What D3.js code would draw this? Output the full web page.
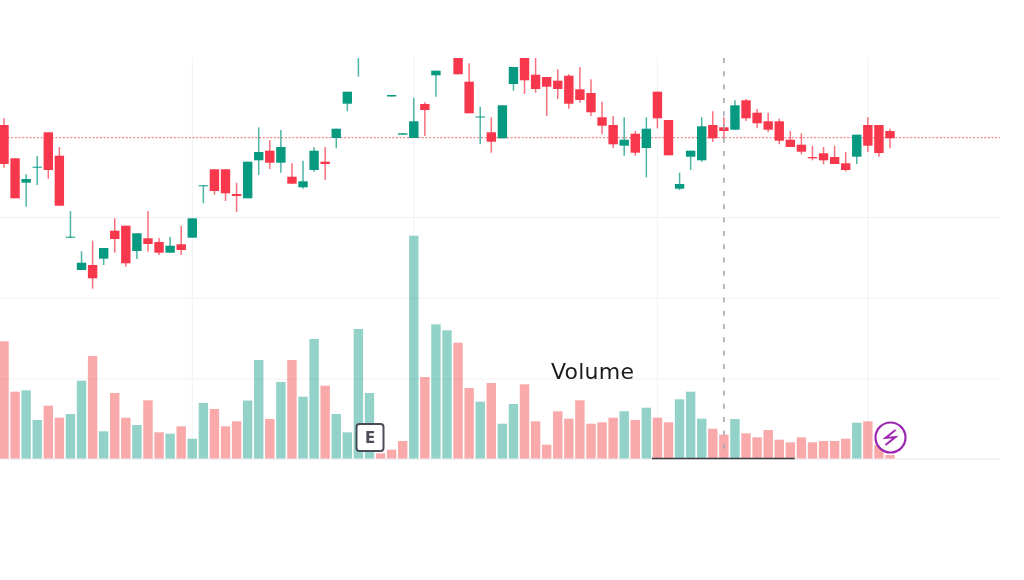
<!DOCTYPE html>
<html>
<head>
<meta charset="utf-8">
<script src="https://cdn.jsdelivr.net/npm/d3@7"></script>
<style>
  html, body { margin: 0; padding: 0; background: #fff; }
  svg { display: block; }
  #chart { filter: blur(0.45px); }
  .label { font-family: "DejaVu Sans", sans-serif; }
</style>
</head>
<body>
<svg id="chart" width="1024" height="580"></svg>
<script>
const opens = [375, 341.7, 317.3, 332.3, 367.7, 344.3, 262.3, 230, 235, 241.3,
  269.3, 274.3, 249, 261.7, 258, 247.3, 255.7, 262.3, 313.7, 330.7,
  330.7, 306, 301.7, 339.7, 349.3, 337.3, 323.3, 312.7, 330, 338.3,
  362, 396.3, 444, 455, 465, 403.5, 365.3, 362, 396, 424.7,
  450, 460, 418.3, 382.5, 367.7, 361.7, 416, 455, 425.3, 423,
  419.3, 424.3, 410.7, 407, 382.7, 375, 354.3, 366.3, 352, 408.3,
  380, 311.3, 343.3, 339.7, 375, 372.7, 370.3, 399.7, 387.3, 378.7,
  378.7, 360.3, 355.3, 343, 346.7, 343, 336.7, 343.3, 375, 375, 369];
const highs = [381.7, 341.7, 325.7, 344, 367.7, 353, 289, 248.7, 259.3, 252,
  281.7, 274.3, 266.7, 289, 262, 263.3, 274.3, 281.7, 314.7, 330.7,
  330.7, 317.3, 338.3, 372.7, 360, 370, 336.7, 339.3, 352.7, 353,
  371.3, 408.3, 470, 470, 470, 405, 366.7, 402.3, 397.7, 429.3,
  470, 470, 436.7, 393.3, 382.7, 394.7, 433, 460, 455, 423,
  430.7, 425.7, 433, 420.7, 398.3, 384, 382.7, 369, 382.7, 408.3,
  380, 327.3, 349.3, 382.7, 388.7, 382.7, 399.7, 401, 391, 387.3,
  381.3, 369, 366.7, 354.3, 353, 354.3, 348, 365.3, 382.7, 375, 371.3];
const lows = [332.3, 301.7, 293.3, 315, 321.3, 294.3, 262.3, 230, 211.3, 235,
  247.3, 233.3, 241, 248.3, 245, 247.3, 245, 262.3, 296.7, 305.3,
  299, 288, 301.7, 325, 331, 327.3, 316.3, 311.3, 328.3, 320,
  351.7, 388.7, 423.3, 450, 450, 403.5, 365.3, 362, 364, 403.3,
  445, 425.7, 386.7, 355.7, 347.3, 361.7, 409.3, 406, 407.3, 384,
  401, 391.3, 397.3, 384, 365.7, 352, 344.3, 344.3, 322.7, 371.7,
  344.7, 310, 330, 338.3, 358, 361.7, 370.3, 379, 371.7, 368,
  355.7, 353, 345.7, 339.7, 335.7, 336, 328.7, 336, 348, 343.3, 351.7];
const closes = [336, 301.7, 321, 333.3, 330, 294.3, 263.3, 237.3, 221.7, 252,
  261, 236.7, 266.7, 256, 247.3, 254.3, 250, 281.7, 314.7, 309,
  306.7, 304, 338.3, 348, 337.3, 353, 316.3, 318.7, 349.3, 336,
  371.3, 408.3, 460, 465, 455, 405, 366.7, 378.7, 390, 429.3,
  465, 425.7, 386.7, 383.5, 358.3, 394.7, 433, 419.7, 411, 413.3,
  411, 396.3, 400, 387.7, 374.3, 355.7, 360.3, 347.3, 371.3, 381.7,
  344.7, 316, 349.3, 373.7, 361.7, 369, 394.7, 381.7, 376.7, 370.3,
  359.3, 353, 348.3, 341.7, 339.7, 336, 330, 365.3, 354.3, 347, 361.7];
const volumes = [117.2, 66.8, 68.2, 38.5, 52.8, 40.8, 44.5, 77.8, 102.5, 27.2,
  65.5, 40.8, 33.5, 58.2, 26.2, 24.8, 32.2, 19.8, 55.5, 49.5,
  32.2, 37.2, 58, 98.5, 39.5, 76.5, 98.5, 61.8, 119.5, 72.8,
  44.5, 26.2, 129.5, 65.5, 5.2, 8.8, 17.5, 222.8, 81.5, 134.2,
  128.2, 115.8, 70.5, 56.8, 75.5, 34.8, 54.5, 74.2, 37.2, 13.8,
  47.2, 39.8, 58.2, 34.8, 36.2, 40.8, 47.2, 38.5, 50.8, 40.8,
  36.2, 59.2, 66.8, 39.8, 29.8, 23.8, 39.5, 25.2, 21.2, 28.5,
  18.8, 16.2, 21.2, 16.2, 17.5, 17.5, 19.8, 35.8, 37.2, 13.5, 3.5];
// these two closed up on the day but volume is coloured against the prior close
const volumeDownBars = [35, 36];
const timeGrid = [17, 37, 59, 78];
const priceGrid = [282.5, 202, 121];
const lastPrice = 362.3;
const crosshairBar = 65;
const rangeBars = [58.5, 71.4];

const red = '#f7374b';
const green = '#089981';
const bodyWidth = 9.4;
const plotRight = 1000;
const plotTop = 58;
const plotBottom = 459;

const svg = d3.select('#chart');
const bars = d3.range(opens.length);

const x = d3.scaleLinear().domain([0, 80]).range([4, 890]);
const y = d3.scaleLinear().domain([0, 500]).range([500, 0]);
const yVolume = d3.scaleLinear().domain([0, 230]).range([458.5, 228.5]);

const isUp = i => closes[i] >= opens[i];
const candleColor = i => (isUp(i) ? green : red);

svg.append('defs').append('clipPath')
  .attr('id', 'plot')
  .append('rect')
  .attr('x', 0)
  .attr('y', plotTop)
  .attr('width', plotRight)
  .attr('height', plotBottom - plotTop);

// grid
svg.selectAll('.timeGrid')
  .data(timeGrid)
  .enter().append('line')
  .attr('class', 'timeGrid')
  .attr('x1', d => x(d))
  .attr('x2', d => x(d))
  .attr('y1', plotTop)
  .attr('y2', plotBottom)
  .attr('stroke', '#f0f1f3');

svg.selectAll('.priceGrid')
  .data(priceGrid)
  .enter().append('line')
  .attr('class', 'priceGrid')
  .attr('x1', 0)
  .attr('x2', plotRight)
  .attr('y1', d => y(d))
  .attr('y2', d => y(d))
  .attr('stroke', '#f0f1f3');

svg.append('line')
  .attr('x1', 0)
  .attr('x2', plotRight)
  .attr('y1', plotBottom)
  .attr('y2', plotBottom)
  .attr('stroke', '#e6e7ee');

// volume
svg.selectAll('.volume')
  .data(bars)
  .enter().append('rect')
  .attr('class', 'volume')
  .attr('x', d => x(d) - bodyWidth / 2)
  .attr('y', d => yVolume(volumes[d]))
  .attr('width', bodyWidth)
  .attr('height', d => yVolume(0) - yVolume(volumes[d]))
  .attr('fill', d => (isUp(d) && !volumeDownBars.includes(d) ? green : '#f23c3c'))
  .attr('fill-opacity', 0.44);

// last price line
svg.append('line')
  .attr('x1', 0)
  .attr('x2', plotRight)
  .attr('y1', y(lastPrice))
  .attr('y2', y(lastPrice))
  .attr('stroke', '#f4505e')
  .attr('stroke-opacity', 0.7)
  .attr('stroke-width', 1.3)
  .attr('stroke-dasharray', '2 1.7');

// candles
const candles = svg.append('g').attr('clip-path', 'url(#plot)');

candles.selectAll('.wick')
  .data(bars)
  .enter().append('line')
  .attr('class', 'wick')
  .attr('x1', d => x(d))
  .attr('x2', d => x(d))
  .attr('y1', d => y(highs[d]))
  .attr('y2', d => y(lows[d]))
  .attr('stroke', candleColor)
  .attr('stroke-width', 1.5)
  .attr('stroke-opacity', 0.72);

candles.selectAll('.body')
  .data(bars)
  .enter().append('rect')
  .attr('class', 'body')
  .attr('x', d => x(d) - bodyWidth / 2)
  .attr('y', d => y(Math.max(opens[d], closes[d])))
  .attr('width', bodyWidth)
  .attr('height', d => Math.abs(y(opens[d]) - y(closes[d])))
  .attr('fill', candleColor);

// crosshair
svg.append('line')
  .attr('x1', x(crosshairBar))
  .attr('x2', x(crosshairBar))
  .attr('y1', plotTop)
  .attr('y2', plotBottom)
  .attr('stroke', '#a6a8b0')
  .attr('stroke-width', 1.6)
  .attr('stroke-dasharray', '5 8.3');

// measured range under the volume bars
svg.append('line')
  .attr('x1', x(rangeBars[0]))
  .attr('x2', x(rangeBars[1]))
  .attr('y1', 458.6)
  .attr('y2', 458.6)
  .attr('stroke', '#3c3c44')
  .attr('stroke-width', 1.5);

svg.append('text')
  .attr('class', 'label')
  .attr('x', 551)
  .attr('y', 378.5)
  .attr('font-size', 22)
  .attr('textLength', 83)
  .attr('fill', '#1c1c1c')
  .text('Volume');

// earnings badge
const badge = svg.append('g').attr('transform', 'translate(370, 437.5)');

badge.append('rect')
  .attr('x', -13.5)
  .attr('y', -13.5)
  .attr('width', 27)
  .attr('height', 27)
  .attr('rx', 3)
  .attr('fill', '#fff')
  .attr('stroke', '#4a4c57')
  .attr('stroke-width', 2);

badge.append('text')
  .attr('class', 'label')
  .attr('text-anchor', 'middle')
  .attr('y', 5.6)
  .attr('font-size', 15)
  .attr('font-weight', 600)
  .attr('fill', '#4a4c57')
  .text('E');

// lightning marker
const bolt = svg.append('g').attr('transform', 'translate(890.5, 437.5)');

bolt.append('circle')
  .attr('r', 15)
  .attr('fill', '#fff')
  .attr('stroke', '#9c27b0')
  .attr('stroke-width', 2.2);

bolt.append('path')
  .attr('d', 'M5,-7.5L-5,0.5L5,-0.5L-5,7.5')
  .attr('fill', 'none')
  .attr('stroke', '#9c27b0')
  .attr('stroke-width', 2);
</script>
</body>
</html>
